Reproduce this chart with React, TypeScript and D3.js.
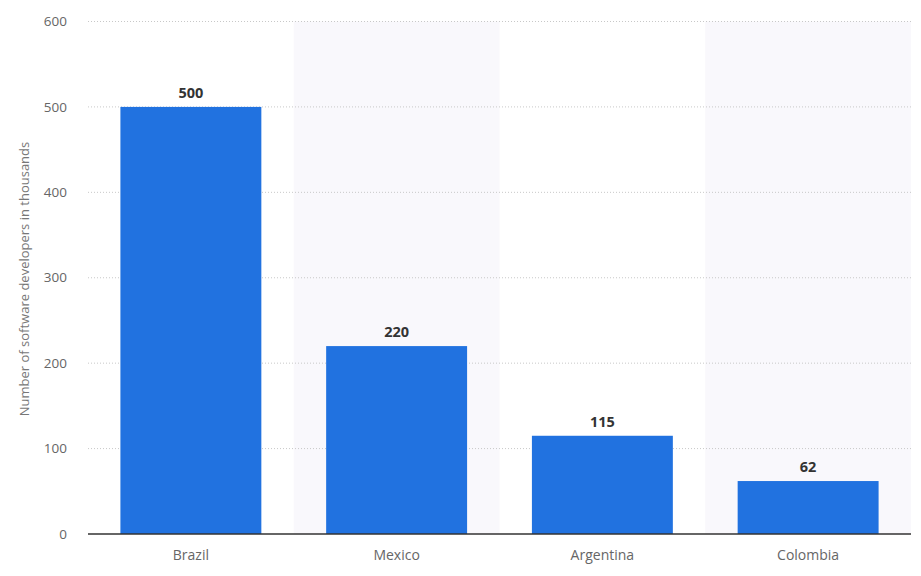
import { scaleBand, scaleLinear } from "d3";

const countries = ["Brazil", "Mexico", "Argentina", "Colombia"];
const developers = [500, 220, 115, 62];
const yTicks = [0, 100, 200, 300, 400, 500, 600];
const yTitle = "Number of software developers in thousands";

const width = 921;
const height = 576;
const margin = { top: 21.5, right: 10, bottom: 42, left: 88 };
const font = "'Open Sans', 'DejaVu Sans', sans-serif";

export default function App() {
	const innerW = width - margin.left - margin.right;
	const innerH = height - margin.top - margin.bottom;

	const xScale = scaleBand<string>()
		.domain(countries)
		.range([0, innerW])
		.paddingInner(0)
		.paddingOuter(0);
	const yScale = scaleLinear().domain([0, 600]).range([innerH, 0]);
	const bandW = xScale.bandwidth();
	const barW = bandW * 0.685;

	return (
		<svg
			width={width}
			height={height}
			style={{ position: "absolute", left: 0, top: 0, background: "#fff" }}
		>
			<g transform={`translate(${margin.left},${margin.top})`}>
				{countries.map((c, i) =>
					i % 2 === 1 ? (
						<rect
							key={`band-${c}`}
							x={xScale(c) ?? 0}
							y={0}
							width={bandW}
							height={innerH}
							fill="#f9f8fc"
						/>
					) : null
				)}
				{yTicks.map((t) =>
					t === 0 ? null : (
						<line
							key={`grid-${t}`}
							x1={0}
							x2={innerW}
							y1={yScale(t)}
							y2={yScale(t)}
							stroke="#c8c8c8"
							strokeWidth={1}
							strokeDasharray="1,2"
						/>
					)
				)}
				{yTicks.map((t) => (
					<text
						key={`tick-${t}`}
						x={-21}
						y={yScale(t)}
						dy="0.35em"
						textAnchor="end"
						fontFamily={font}
						fontSize={13.5}
						fill="#666"
					>
						{t}
					</text>
				))}
				{countries.map((c, i) => {
					const x = (xScale(c) ?? 0) + (bandW - barW) / 2;
					const y = yScale(developers[i]);
					return (
						<g key={`bar-${c}`}>
							<rect
								x={x}
								y={y}
								width={barW}
								height={innerH - y}
								fill="#2172e0"
							/>
							<text
								x={x + barW / 2}
								y={y - 9}
								textAnchor="middle"
								fontFamily={font}
								fontSize={14.5}
								fontWeight="bold"
								fill="#333"
							>
								{developers[i]}
							</text>
							<text
								x={x + barW / 2}
								y={innerH + 26}
								textAnchor="middle"
								fontFamily={font}
								fontSize={14}
								fill="#666"
							>
								{c}
							</text>
						</g>
					);
				})}
				<line
					x1={0}
					x2={innerW}
					y1={innerH}
					y2={innerH}
					stroke="#333"
					strokeWidth={1.5}
				/>
			</g>
			<text
				transform={`translate(29,${279}) rotate(-90)`}
				textAnchor="middle"
				fontFamily={font}
				fontSize={13}
				fill="#777"
			>
				{yTitle}
			</text>
		</svg>
	);
}
